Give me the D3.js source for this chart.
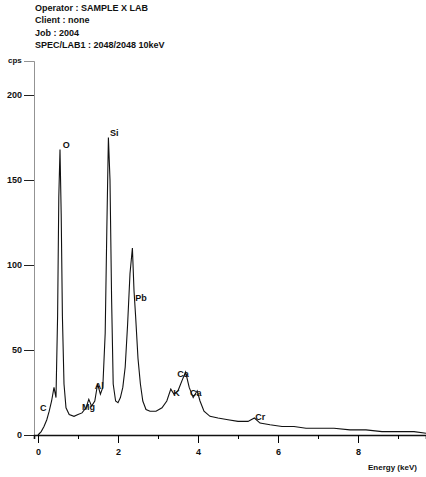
<!DOCTYPE html>
<html>
<head>
<meta charset="utf-8">
<script src="https://cdn.jsdelivr.net/npm/d3@7"></script>
<style>
  body { margin: 0; background: #fff; }
  svg text { font-family: "Liberation Sans", Arial, sans-serif; font-weight: bold; fill: #111; }
</style>
</head>
<body>
<div id="spectrum"></div>
<script>
// spectrum: energy (keV) and counts (cps)
var energy = [0.00, 0.08, 0.15, 0.22, 0.28, 0.34, 0.40, 0.45, 0.49, 0.52, 0.55, 0.58, 0.61, 0.65, 0.70,
  0.78, 0.90, 1.00, 1.10, 1.20, 1.27, 1.34, 1.42, 1.49, 1.56, 1.62, 1.68, 1.72, 1.76, 1.80, 1.84,
  1.88, 1.94, 2.00, 2.06, 2.12, 2.18, 2.24, 2.30, 2.36, 2.40, 2.44, 2.50, 2.56, 2.62, 2.70, 2.80,
  2.95, 3.10, 3.22, 3.32, 3.40, 3.50, 3.60, 3.69, 3.78, 3.88, 3.98, 4.05, 4.15, 4.30, 4.50, 4.75,
  5.00, 5.25, 5.41, 5.55, 5.80, 6.10, 6.40, 6.70, 7.00, 7.40, 7.80, 8.20, 8.60, 9.00, 9.40, 9.70];
var counts = [0, 2, 5, 9, 14, 20, 28, 22, 70, 140, 168, 130, 70, 30, 16,
  12, 11, 12, 13, 16, 21, 17, 20, 30, 24, 28, 60, 120, 175, 150, 80,
  30, 20, 19, 22, 28, 40, 65, 95, 110, 85, 70, 45, 30, 20, 15, 14,
  14, 16, 20, 27, 24, 26, 32, 37, 28, 22, 26, 20, 14, 11, 10, 9,
  8, 8, 10, 7, 6, 5, 5, 4, 4, 4, 3, 3, 2, 2, 2, 1];

// element labels (placed at energy / cps)
var labelNames  = ["O", "Si", "Pb", "C", "Mg", "Al", "Ca", "K", "Ca", "Cr"];
var labelEnergy = [0.62, 1.80, 2.43, 0.05, 1.10, 1.42, 3.48, 3.38, 3.80, 5.43];
var labelCps    = [169, 176, 79, 14, 15, 27, 34, 23, 23, 9];

var yTicks = [0, 50, 100, 150, 200];
var xTicks = [0, 1, 2, 3, 4, 5, 6, 7, 8, 9];
var xLabels = [0, 2, 4, 6, 8];

var header = ["Operator :   SAMPLE X LAB",
              "Client : none",
              "Job : 2004",
              "SPEC/LAB1 : 2048/2048 10keV"];

var W = 426, H = 477;

var svg = d3.select("div#spectrum")
  .append("svg")
    .attr("width", W)
    .attr("height", H);

var x = d3.scaleLinear().domain([-0.1, 9.7]).range([34, 426]);
var y = d3.scaleLinear().domain([0, 220]).range([435, 61]);

// header lines
svg.selectAll("text.head")
  .data(header)
  .enter().append("text")
    .attr("class", "head")
    .attr("x", 35)
    .attr("y", (d, i) => 11 + i * 12.3)
    .style("font-size", "9px")
    .text(d => d);

// Y axis
var yAxis = svg.append("g")
  .attr("transform", "translate(" + x(-0.1) + ",0)")
  .call(d3.axisLeft(y).tickValues(yTicks).tickSize(10).tickPadding(2));
yAxis.select(".domain").attr("stroke", "#777").attr("stroke-width", 0.8);
yAxis.selectAll(".tick line").attr("stroke", "#222");
yAxis.selectAll(".tick text")
  .style("font-size", "9px")
  .style("font-family", "Liberation Sans, Arial, sans-serif")
  .style("font-weight", "bold");

svg.append("text")
  .attr("x", 8)
  .attr("y", y(220) + 2)
  .style("font-size", "8px")
  .text("cps");

// X axis
var xAxis = svg.append("g")
  .attr("transform", "translate(0," + y(0) + ")")
  .call(d3.axisBottom(x).tickValues(xTicks).tickSizeOuter(0)
    .tickSize(4).tickFormat(d => xLabels.indexOf(d) >= 0 ? d : ""));
xAxis.select(".domain").attr("stroke", "#111").attr("stroke-width", 1.6);
xAxis.selectAll(".tick line")
  .attr("y2", d => xLabels.indexOf(d) >= 0 ? 8 : 4);
xAxis.selectAll(".tick text")
  .attr("y", 14)
  .style("font-size", "9px")
  .style("font-family", "Liberation Sans, Arial, sans-serif")
  .style("font-weight", "bold");

svg.append("text")
  .attr("x", 368)
  .attr("y", 470)
  .style("font-size", "8px")
  .text("Energy (keV)");

// spectrum trace
var pts = energy.map((e, i) => ({ e: e, c: counts[i] }));
svg.append("path")
  .datum(pts)
  .attr("fill", "none")
  .attr("stroke", "#111")
  .attr("stroke-width", 1.1)
  .attr("d", d3.line()
    .x(d => x(d.e))
    .y(d => y(d.c)));

// element labels
svg.selectAll("text.peak")
  .data(labelNames)
  .enter().append("text")
    .attr("class", "peak")
    .attr("x", (d, i) => x(labelEnergy[i]))
    .attr("y", (d, i) => y(labelCps[i]))
    .style("font-size", "9px")
    .text(d => d);
</script>
</body>
</html>
